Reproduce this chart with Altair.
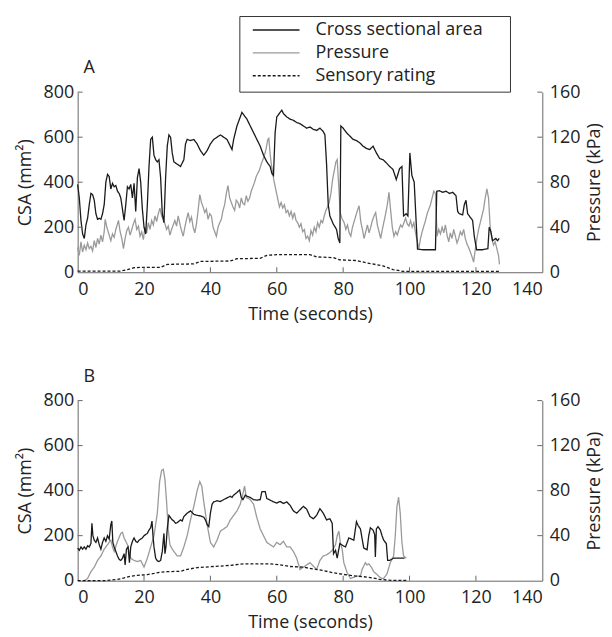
import altair as alt
import pandas as pd

# ---------------- Panel A data ----------------
A_csa_t = [0, 0.5, 1, 1.5, 2, 2.5, 3, 3.5, 4, 4.5, 5, 5.5, 6, 6.5, 7, 7.5, 8, 8.5, 9, 9.5,
           10, 10.5, 11, 11.5, 12, 12.5, 13, 13.5, 14, 14.5, 15, 15.5, 16, 16.5, 17, 17.5, 18, 18.5, 19, 19.5,
           20, 20.5, 21, 21.5, 22, 22.5, 23, 23.5, 24, 24.5, 25, 25.5, 26, 26.5, 27, 27.5, 28, 28.5, 29, 30,
           31, 32, 32.5, 33, 34, 35, 36, 37, 38, 39, 40, 41, 42, 43, 44, 45, 46, 46.5, 47, 48,
           49, 49.5, 50, 51, 52, 53, 54, 55, 56, 57, 58, 58.5, 59, 59.5, 60, 61, 61.5, 62, 63, 64,
           65, 66, 67, 68, 69, 70, 71, 72, 73, 74, 74.5, 75, 75.5, 76, 77, 78, 78.5, 79, 79.3, 80,
           81, 82, 83, 84, 85, 86, 87, 88, 89, 90, 91, 92, 93, 94, 95, 96, 97, 97.7, 98.2, 99,
           99.5, 100.1, 100.7, 101.4, 101.8, 102.4, 104, 106, 107.8, 108.2, 109, 110, 111, 112, 113, 114, 114.5, 115, 116, 116.5,
           117, 117.5, 118, 119, 119.5, 120.2, 122, 123.6, 124, 124.5, 125, 126, 126.5, 127]
A_csa_v = [390, 330, 230, 170, 150, 210, 240, 300, 350, 345, 320, 260, 235, 240, 235, 260, 300, 400, 435, 425,
           370, 395, 380, 385, 360, 350, 330, 280, 230, 300, 380, 370, 390, 330, 395, 270, 420, 460, 400, 280,
           200, 170, 300, 470, 590, 600, 520, 500, 490, 500, 420, 260, 220, 420, 560, 610, 600, 530, 490, 480,
           470, 500, 570, 590, 585, 590, 570, 540, 520, 540, 570, 590, 600, 610, 600, 590, 560, 545, 590, 650,
           690, 710, 700, 680, 650, 620, 590, 560, 520, 490, 470, 440, 430, 620, 690, 710, 720, 705, 690, 680,
           675, 665, 660, 650, 640, 645, 635, 630, 640, 625, 610, 480, 300, 250, 215, 190, 150, 130, 650, 640,
           620, 605, 590, 585, 575, 560, 550, 545, 560, 530, 505, 500, 486, 470, 457, 412, 460, 470, 250, 260,
           250, 530, 430, 400, 280, 103, 100, 100, 100, 360, 362, 355, 360, 350, 355, 340, 270, 260, 255, 300,
           320, 260, 250, 230, 160, 100, 100, 105, 200, 180, 140, 150, 140, 150]

A_pres_t = [0, 0.5, 1, 1.5, 2, 2.5, 3, 3.5, 4, 4.5, 5, 5.5, 6, 6.5, 7, 7.5, 8, 8.3, 8.8, 9.3,
            10, 10.5, 11, 11.5, 12.3, 12.8, 13.3, 13.8, 14.3, 14.8, 15.3, 15.8, 16.3, 16.8, 17.3, 17.8, 18.3, 18.8, 19.3, 19.8,
            20.3, 20.8, 21.3, 21.8, 22.3, 22.8, 23.3, 23.8, 24.3, 24.8, 25.3, 25.8, 26.3, 26.8, 27.3, 27.8, 28.3, 28.8, 29.3, 29.8,
            30.3, 30.8, 31.3, 31.8, 32.3, 32.8, 33.3, 33.8, 34.3, 34.8, 35.3, 35.8, 36.3, 36.8, 37.3, 37.8, 38.3, 38.8, 39.3, 39.8,
            40.3, 40.8, 41.3, 41.8, 42.3, 42.8, 43.3, 43.8, 44.3, 44.8, 45.3, 45.8, 46.3, 46.8, 47.3, 47.8, 48.3, 48.8, 49.3, 49.8,
            50.3, 50.8, 51.3, 51.8, 52.3, 52.8, 53.3, 53.8, 54.3, 54.8, 55.3, 55.8, 56.3, 56.8, 57.3, 57.6, 58, 58.3, 58.7, 59.1,
            59.8, 60.3, 60.8, 61.3, 61.8, 62.3, 62.8, 63.3, 63.8, 64.3, 64.8, 65.3, 65.8, 66.3, 66.8, 67.3, 67.8, 68.3, 68.8, 69.3,
            69.8, 70.3, 70.8, 71.3, 71.8, 72.3, 72.8, 73.3, 73.8, 74.3, 74.8, 75.3, 75.8, 76.3, 76.8, 77.3, 77.8, 78.2, 78.6, 79.1,
            79.6, 80.3, 80.8, 81.3, 81.8, 82.3, 82.8, 83.3, 83.8, 84.3, 84.8, 85.3, 85.8, 86.3, 86.8, 87.3, 87.8, 88.3, 88.8, 89.3,
            89.8, 90.3, 90.8, 91.3, 91.8, 92.3, 92.8, 93.3, 93.8, 94.3, 94.8, 95.3, 95.8, 96.3, 96.8, 97.3, 97.8, 98.3, 98.8, 99.3,
            99.8, 100.3, 100.8, 101.3, 101.8, 102.3, 102.8, 103.3, 103.8, 104.3, 104.8, 105.3, 105.8, 106.3, 106.8, 107.3, 107.8, 108.3, 108.8, 109.3,
            109.8, 110.3, 110.8, 111.3, 111.8, 112.3, 112.8, 113.3, 113.8, 114.3, 114.8, 115.3, 115.8, 116.3, 116.8, 117.3, 117.8, 118.3, 118.8, 119.3,
            119.8, 120.3, 120.8, 121.3, 121.8, 122.3, 122.8, 123.3, 123.8, 124.3, 124.8, 125.3, 125.8, 126.3, 126.8, 127.1]
A_pres_v = [22, 15, 27, 18, 24, 20, 26, 21, 23, 19, 28, 22, 30, 25, 33, 27, 36, 47, 40, 35,
            28, 34, 31, 38, 46, 36, 30, 21, 30, 37, 40, 33, 38, 43, 47, 38, 41, 32, 36, 29,
            40, 35, 44, 38, 46, 42, 50, 45, 52, 57, 50, 47, 43, 38, 41, 33, 38, 42, 46, 41,
            50, 43, 37, 32, 40, 47, 53, 45, 49, 40, 35, 43, 55, 69, 62, 58, 53, 56, 47, 52,
            50, 40, 36, 32, 40, 44, 47, 55, 60, 70, 77, 66, 62, 58, 55, 64, 62, 57, 66, 61,
            60, 68, 63, 66, 72, 76, 80, 85, 88, 91, 96, 100, 104, 110, 118, 119, 105, 97, 90, 82,
            72, 65, 58, 62, 57, 60, 53, 55, 50, 54, 48, 53, 46, 44, 40, 43, 36, 38, 30, 32,
            28, 37, 33, 40, 36, 44, 40, 46, 44, 50, 55, 58, 62, 70, 82, 90, 98, 100, 80, 53,
            48, 44, 38, 42, 35, 32, 40, 45, 50, 55, 59, 45, 38, 30, 36, 42, 35, 40, 46, 50,
            53, 42, 36, 30, 38, 45, 52, 60, 71, 55, 40, 32, 36, 33, 38, 42, 40, 44, 48, 43,
            41, 46, 40, 44, 35, 28, 21, 30, 36, 41, 46, 52, 56, 60, 66, 72, 70, 32, 38, 34,
            40, 35, 42, 33, 27, 35, 30, 38, 32, 26, 30, 36, 33, 38, 30, 25, 22, 18, 14, 9,
            20, 30, 38, 44, 50, 56, 66, 74, 66, 40, 30, 24, 27, 21, 15, 7]

A_sens_t = [0, 13, 15, 17, 19, 25, 27, 35, 37, 46, 48, 55, 57, 60, 70, 72, 77, 79, 84, 87, 92, 95, 98, 127]
A_sens_v = [5, 5, 12, 20, 22, 22, 35, 37, 48, 50, 60, 62, 75, 78, 78, 68, 65, 55, 52, 42, 28, 12, 4, 4]

# ---------------- Panel B data ----------------
B_csa_t = [0, 0.5, 1, 1.5, 2, 2.5, 3, 3.5, 4, 4.3, 4.6, 5, 5.5, 6, 6.5, 7, 7.5, 8, 8.5, 9,
           9.5, 10, 10.3, 10.6, 11, 11.5, 12, 12.5, 13, 13.5, 14, 14.3, 14.7, 15.2, 15.6, 16, 16.5, 17, 17.5, 18,
           18.5, 19, 19.5, 20, 20.5, 21, 21.5, 22, 22.4, 22.7, 23, 23.5, 24, 24.5, 25, 25.5, 26, 26.3, 26.6, 27,
           27.5, 28, 28.5, 29, 29.5, 30, 31, 31.5, 32, 33, 34, 35, 36, 37, 38, 38.5, 39, 39.5, 40, 40.5,
           41, 42, 43, 44, 45, 46, 46.5, 47, 48, 48.8, 49.3, 49.8, 50.5, 51, 52, 53, 54, 55, 55.5, 56.5,
           57, 58, 59, 60, 61, 62, 63, 64, 65, 66, 67, 68, 69, 70, 71, 72, 73, 74, 75, 76,
           76.7, 77.1, 77.7, 78.2, 79, 80, 80.7, 81.7, 82.5, 83.2, 84, 84.5, 85.2, 86.2, 87.2, 87.7, 88.2, 89, 89.5, 89.7,
           90, 90.5, 91.2, 91.7, 92.2, 93, 93.4, 94, 95.2, 96, 97, 98.5]
B_csa_v = [145, 135, 150, 140, 150, 140, 155, 150, 165, 255, 200, 180, 170, 190, 160, 140, 170, 190, 175, 200,
           185, 250, 265, 170, 150, 130, 110, 95, 90, 100, 120, 70, 140, 150, 80, 150, 175, 190, 175, 170,
           180, 185, 190, 200, 205, 210, 225, 235, 265, 200, 150, 100, 88, 85, 90, 130, 210, 120, 150, 230,
           290, 280, 270, 265, 255, 258, 270, 265, 285, 300, 310, 295, 290, 288, 282, 270, 250, 240, 300, 340,
           350, 355, 352, 360, 368, 375, 370, 380, 392, 403, 370, 360, 380, 375, 370, 360, 358, 360, 395, 396,
           365, 358, 350, 345, 352, 343, 350, 335, 310, 300, 315, 330, 318, 285, 275, 290, 320, 300, 270, 275,
           255, 120, 135, 100, 165, 155, 150, 190, 185, 180, 262, 245, 230, 145, 137, 200, 235, 225, 205, 105,
           230, 240, 225, 200, 180, 165, 90, 90, 100, 100, 100, 100]

B_pres_t = [2, 3, 4, 5, 6, 7, 8, 9, 10, 10.5, 11, 12, 13, 13.5, 14, 15, 16, 17, 18, 19,
            20, 21, 22, 23, 24, 24.7, 25.3, 25.8, 26.3, 26.8, 27.3, 27.8, 28.5, 29, 30, 31, 32, 33, 34, 35,
            36, 36.8, 37.4, 38, 39, 40, 41, 42, 43, 44, 45, 46, 47, 48, 49, 49.7, 50.3, 50.8, 51.5, 52,
            53, 54, 55, 56, 57, 58, 59, 60, 61, 62, 63, 64, 65, 66, 67, 68, 69, 70, 71, 72,
            73, 74, 75, 76, 77, 77.7, 78.2, 78.7, 79.2, 79.7, 80.2, 81.2, 82.2, 83.2, 84.2, 85.2, 85.7, 86.7, 87.2, 87.7,
            88.5, 89.2, 90, 90.7, 91.5, 92.2, 93.2, 94.2, 95.2, 95.7, 96.2, 96.7, 97.2, 97.7, 98.2, 99]
B_pres_v = [0, 2, 8, 12, 18, 22, 28, 32, 36, 30, 26, 35, 42, 43, 38, 32, 20, 18, 17, 18,
            12, 20, 30, 40, 60, 88, 98, 99, 90, 70, 45, 32, 28, 26, 22, 22, 30, 40, 54, 66,
            80, 88, 84, 70, 50, 34, 30, 36, 44, 46, 48, 54, 58, 62, 68, 76, 84, 74, 73, 72,
            68, 56, 46, 40, 34, 32, 30, 34, 32, 35, 30, 30, 26, 20, 10, 12, 14, 16, 13, 10,
            18, 22, 23, 25, 28, 32, 40, 44, 33, 28, 16, 7, 2, 3, 4, 4, 10, 16, 14, 15,
            12, 8, 6, 4, 2, 2, 6, 16, 22, 40, 66, 74, 60, 34, 22, 20]

B_sens_t = [0, 8, 10, 12, 14, 16, 18, 21, 23, 25, 27, 31, 33, 36, 40, 46, 50, 58, 61, 64,
            68, 71, 74, 77, 80, 83, 86, 89, 91, 93, 95, 99]
B_sens_v = [0, 0, 3, 6, 12, 20, 24, 27, 32, 38, 40, 42, 50, 58, 62, 68, 75, 75, 70, 63,
            60, 52, 45, 35, 28, 22, 18, 12, 6, 3, 1, 1]

SERIES = ["Cross sectional area", "Pressure", "Sensory rating"]
X_TICKS = [0, 20, 40, 60, 80, 100, 120, 140]
CSA_TICKS = [0, 200, 400, 600, 800]
P_TICKS = [0, 40, 80, 120, 160]

W, H = 467, 181
FONT = "Open Sans"
AXIS_COL = "#666666"
TXT = "#222222"

color_scale = alt.Scale(domain=SERIES, range=["#1a1a1a", "#9a9a9a", "#1a1a1a"])
dash_scale = alt.Scale(domain=SERIES, range=[[1, 0], [1, 0], [3, 2]])

xscale = alt.Scale(domain=[0, 140], nice=False, zero=False)
lscale = alt.Scale(domain=[0, 800], nice=False)
rscale = alt.Scale(domain=[0, 160], nice=False)

x_axis = alt.Axis(values=X_TICKS, title="Time (seconds)", ticks=False,
                  labelPadding=8, titlePadding=7, domainColor=AXIS_COL)
r_axis = alt.Axis(orient="right", values=P_TICKS, title="Pressure (kPa)",
                  ticks=False, labelPadding=7, titlePadding=6, titleAngle=270,
                  titleBaseline="top", domainColor=AXIS_COL)
l_axis = alt.Axis(orient="left", values=CSA_TICKS, title="CSA (mm²)",
                  ticks=False, labelPadding=4, titlePadding=9, domainColor=AXIS_COL)


def make_legend():
    return alt.Legend(title=None, orient="none", legendX=163, legendY=-78,
                      direction="vertical", padding=4, symbolType="stroke",
                      symbolSize=2209, symbolStrokeWidth=1.4,
                      symbolOffset=8, labelOffset=15, labelFont=FONT, labelFontSize=18,
                      labelColor=TXT, clipHeight=23, rowPadding=0, labelLimit=400)


def panel(csa_t, csa_v, sens_t, sens_v, p_t, p_v, label, show_legend):
    left_df = pd.DataFrame({
        "t": csa_t + sens_t,
        "v": csa_v + sens_v,
        "series": [SERIES[0]] * len(csa_t) + [SERIES[2]] * len(sens_t),
    })
    right_df = pd.DataFrame({"t": p_t, "p": p_v, "series": [SERIES[1]] * len(p_t)})

    leg = make_legend() if show_legend else None

    pres = alt.Chart(right_df).mark_line(strokeWidth=1.3).encode(
        x=alt.X("t:Q", scale=xscale, axis=x_axis),
        y=alt.Y("p:Q", scale=rscale, axis=r_axis),
        color=alt.Color("series:N", scale=color_scale, legend=leg),
        strokeDash=alt.StrokeDash("series:N", scale=dash_scale, legend=leg),
    )
    p_ticks = alt.Chart(pd.DataFrame({"p": P_TICKS[1:]})).mark_rule(
        color=AXIS_COL, strokeWidth=1).encode(
        y=alt.Y("p:Q", scale=rscale, axis=r_axis),
        x=alt.value(W - 5), x2=alt.value(W))

    csa = alt.Chart(left_df).mark_line(strokeWidth=1.3).encode(
        x=alt.X("t:Q", scale=xscale, axis=x_axis),
        y=alt.Y("v:Q", scale=lscale, axis=l_axis),
        color=alt.Color("series:N", scale=color_scale, legend=leg),
        strokeDash=alt.StrokeDash("series:N", scale=dash_scale, legend=leg),
    )
    l_ticks = alt.Chart(pd.DataFrame({"v": CSA_TICKS[1:]})).mark_rule(
        color=AXIS_COL, strokeWidth=1).encode(
        y=alt.Y("v:Q", scale=lscale, axis=l_axis),
        x=alt.value(0), x2=alt.value(5))
    x_ticks = alt.Chart(pd.DataFrame({"t": X_TICKS[1:-1]})).mark_rule(
        color=AXIS_COL, strokeWidth=1).encode(
        x=alt.X("t:Q", scale=xscale, axis=x_axis),
        y=alt.value(H - 5), y2=alt.value(H))
    lab = alt.Chart(pd.DataFrame({"label": [label]})).mark_text(
        font=FONT, fontSize=18, color=TXT, align="left", baseline="alphabetic").encode(
        text="label:N", x=alt.value(6), y=alt.value(-19))

    layers = [csa, l_ticks, x_ticks, lab]
    if show_legend:
        frame = alt.Chart(pd.DataFrame({"k": [0]})).mark_rect(
            fill="white", stroke="#333333", strokeWidth=1).encode(
            x=alt.value(163), x2=alt.value(435), y=alt.value(-76), y2=alt.value(0))
        layers = [frame] + layers

    right = alt.layer(pres, p_ticks)
    left = alt.layer(*layers)
    return alt.layer(right, left).resolve_scale(y="independent").properties(width=W, height=H)


pA = panel(A_csa_t, A_csa_v, A_sens_t, A_sens_v, A_pres_t, A_pres_v, "A", True)
pB = panel(B_csa_t, B_csa_v, B_sens_t, B_sens_v, B_pres_t, B_pres_v, "B", False)

chart = alt.vconcat(pA, pB, spacing=45).resolve_scale(
    color="independent", strokeDash="independent"
).properties(
    padding={"left": 8, "top": 5, "right": 0, "bottom": 0}
).configure_view(stroke=None).configure_axis(
    grid=False, labelFont=FONT, labelFontSize=18, labelColor=TXT,
    titleFont=FONT, titleFontSize=18, titleFontWeight="normal", titleColor=TXT,
    domainWidth=1
)

chart.save("out.html", embed_options={"renderer": "svg", "actions": False})
